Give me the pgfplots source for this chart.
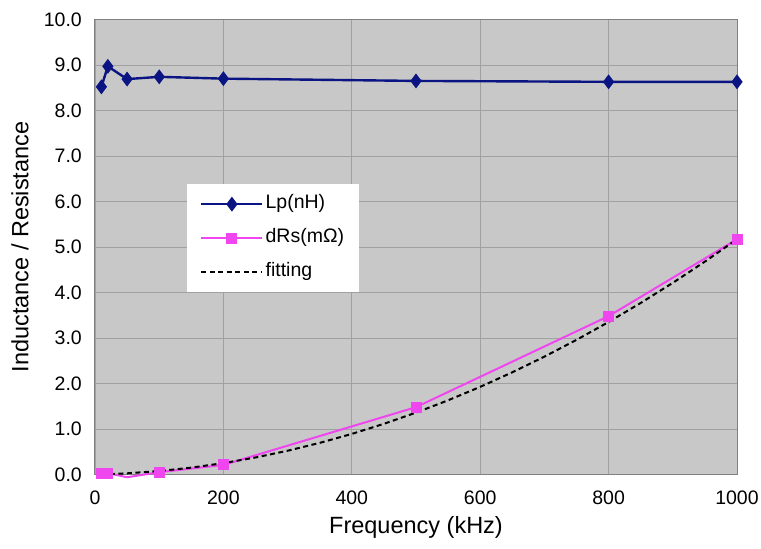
\documentclass[border=0pt]{standalone}
\usepackage{fontspec}
\setmainfont{Liberation Sans}
\usepackage{pgfplots}
\pgfplotsset{compat=1.18}

\definecolor{lpblue}{RGB}{10,20,130}
\definecolor{rspink}{RGB}{240,70,240}
\definecolor{plotbg}{RGB}{200,200,200}
\definecolor{gridgray}{RGB}{160,160,160}
\definecolor{framegray}{RGB}{128,128,128}

\newcommand{\tickfont}{\fontsize{19.5bp}{23bp}\selectfont}
\newcommand{\labfont}{\fontsize{23.5bp}{28bp}\selectfont}

\begin{document}
\begin{tikzpicture}
\begin{axis}[
  scale only axis,
  width=642bp, height=455bp,
  xmin=0, xmax=1000, ymin=0, ymax=10,
  xtick={0,200,...,1000}, ytick={0,1,...,10},
  grid=major,
  major grid style={gridgray, line width=0.8bp},
  axis line style={framegray, line width=1bp},
  axis background/.style={fill=plotbg},
  major tick length=0pt,
  clip=false,
  /pgf/number format/assume math mode=true,
  xticklabel style={font=\tickfont, anchor=north, inner sep=0pt, yshift=-16.5bp,
    /pgf/number format/1000 sep={}},
  yticklabel style={font=\tickfont, anchor=east, inner sep=0pt, xshift=-13bp,
    /pgf/number format/.cd, fixed, fixed zerofill, precision=1},
  xlabel={Frequency (kHz)},
  ylabel={Inductance / Resistance},
  xlabel style={font=\labfont, at={(axis description cs:0.5,-0.1154)}, anchor=center},
  ylabel style={font=\labfont, at={(axis description cs:-0.1168,0.5)}, anchor=center},
  legend cell align=left,
  legend image code/.code={%
    \draw[mark repeat=2, mark phase=2, #1] plot coordinates {(0bp,0bp) (30.5bp,0bp) (61bp,0bp)};},
  legend style={at={(0.1433,0.6385)}, anchor=north west, fill=white, draw=none,
    font=\tickfont, inner xsep=13bp, inner ysep=8.75bp, row sep=11.5bp,
    nodes={inner sep=2bp, text height=14bp, text depth=4.5bp}},
]
% Lp (nH)
\addplot[color=lpblue, line width=2.4bp, mark=diamond*, mark size=5.5bp,
  mark options={solid, fill=lpblue}]
  coordinates {(10,8.52) (20,8.97) (50,8.69) (100,8.74) (200,8.70) (500,8.65) (800,8.63) (1000,8.63)};
\addlegendentry{Lp(nH)}
% dRs (mOhm)
\addplot[color=rspink, line width=2bp, mark=square*, mark size=4.5bp,
  mark options={solid, fill=rspink}, mark indices={1,2,4,5,6,7,8}, forget plot]
  coordinates {(10,0.03) (20,0.03) (50,-0.06) (100,0.05) (200,0.21) (500,1.48) (800,3.48) (1000,5.17)};
\addlegendimage{color=rspink, line width=2bp, mark=square*, mark size=4.5bp,
  mark options={solid, fill=rspink}}
\addlegendentry{dRs(mΩ)}
% fitting
\addplot[color=black, line width=2bp, dash pattern=on 5bp off 3.5bp]
  coordinates {(10,0.0032) (50,0.0258) (100,0.076) (150,0.151) (200,0.25) (250,0.374)
    (300,0.522) (350,0.695) (400,0.892) (450,1.114) (500,1.36) (550,1.631) (600,1.926)
    (650,2.246) (700,2.59) (750,2.959) (800,3.352) (850,3.77) (900,4.212) (950,4.679) (1000,5.17)};
\addlegendentry{fitting}
\end{axis}
\pgfresetboundingbox
\path (-95bp,-74.5bp) rectangle (666bp,474.5bp);
\end{tikzpicture}
\end{document}
